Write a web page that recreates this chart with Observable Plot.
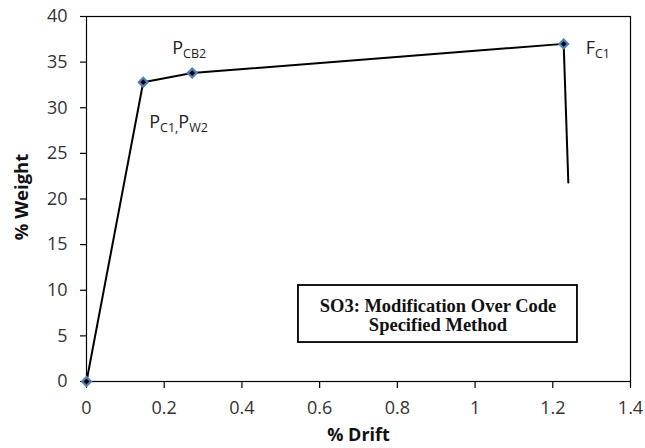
<!DOCTYPE html>
<html>
<head>
<meta charset="utf-8">
<script src="https://cdn.jsdelivr.net/npm/d3@7"></script>
<script src="https://cdn.jsdelivr.net/npm/@observablehq/plot@0.6"></script>
<style>
  html, body { margin: 0; padding: 0; background: #fff; }
  #chart { width: 645px; height: 448px; }
</style>
</head>
<body>
<div id="chart"></div>
<script>
// Data
const drift  = [0, 0.146, 0.272, 1.228, 1.240];   // % Drift
const weight = [0, 32.8, 33.8, 37.0, 21.8];        // % Weight
const hasMarker = [true, true, true, true, false];
const xTicks = [0, 0.2, 0.4, 0.6, 0.8, 1, 1.2, 1.4];
const yTicks = [0, 5, 10, 15, 20, 25, 30, 35, 40];
const xLabel = "% Drift";
const yLabel = "% Weight";
const boxText = "SO3: Modification Over Code\nSpecified Method";
const boxExtent = [{x1: 0.5455, x2: 1.2635, y1: 4.27, y2: 10.52}];

const points = drift.map((d, i) => ({drift: d, weight: weight[i], marker: hasMarker[i]}));

// point labels with subscripts (parts: [text, isSubscript])
const labelPCB2 = [{pt: 2, parts: [["P", false], ["CB2", true]]}];
const labelPC1  = [{pt: 1, parts: [["P", false], ["C1,", true], ["P", false], ["W2", true]]}];
const labelFC1  = [{pt: 3, parts: [["F", false], ["C1", true]]}];

const font = "'Open Sans', 'Noto Sans', sans-serif";

function labelMark(lab, dx, dy) {
  return Plot.text(lab, {
    x: d => points[d.pt].drift,
    y: d => points[d.pt].weight,
    text: d => d.parts.map(p => p[0]).join(""),
    textAnchor: "start",
    lineAnchor: "bottom",
    fontSize: 18,
    fill: "#222",
    dx, dy,
    render(index, scales, values, dims, ctx, next) {
      const g = next(index, scales, values, dims, ctx);
      d3.select(g).selectAll("text").each(function(_, k) {
        const parts = lab[index[k]].parts;
        const t = d3.select(this);
        t.text(null);
        let inSub = false;
        parts.forEach(([txt, sub]) => {
          const ts = t.append("tspan").text(txt);
          if (sub) {
            ts.attr("font-size", 12.5);
            if (!inSub) { ts.attr("dy", 4); inSub = true; }
          } else if (inSub) {
            ts.attr("dy", -4); inSub = false;
          }
        });
      });
      return g;
    }
  });
}

const chart = Plot.plot({
  width: 645,
  height: 448,
  marginLeft: 86,
  marginRight: 15,
  marginTop: 16,
  marginBottom: 67,
  style: {fontFamily: font, background: "#fff", color: "#222"},
  x: {domain: [0, 1.4]},
  y: {domain: [0, 40]},
  marks: [
    Plot.frame({stroke: "#000", strokeWidth: 1.2}),
    Plot.axisX({ticks: xTicks, tickFormat: d => String(d), tickSize: 7, tickPadding: 13,
      fontSize: 18, label: null, stroke: "#000", strokeWidth: 1.2, fill: "#333"}),
    Plot.axisY({ticks: yTicks, tickSize: 6, tickPadding: 13,
      fontSize: 18, label: null, stroke: "#000", strokeWidth: 1.2, fill: "#333"}),
    Plot.text([xLabel], {frameAnchor: "bottom", lineAnchor: "bottom", textAnchor: "middle",
      dy: 59, fontSize: 18, fontWeight: "bold", fill: "#111"}),
    Plot.text([yLabel], {frameAnchor: "left", textAnchor: "middle", lineAnchor: "middle",
      dx: -64.5, dy: -2, rotate: -90, fontSize: 18.5, fontWeight: "bold", fill: "#111"}),
    Plot.line(points, {x: "drift", y: "weight", stroke: "#000", strokeWidth: 2}),
    Plot.dot(points.filter(d => d.marker), {x: "drift", y: "weight", symbol: "diamond2",
      r: 4, fill: "#000", stroke: "#4F81BD", strokeWidth: 2.2}),
    labelMark(labelPCB2, -20, -19),
    labelMark(labelPC1, 6, 46),
    labelMark(labelFC1, 22, 10),
    Plot.rect(boxExtent, {x1: "x1", x2: "x2", y1: "y1", y2: "y2", fill: "#fff", stroke: "#000", strokeWidth: 1.8}),
    Plot.text(boxExtent, {x: d => (d.x1 + d.x2) / 2, y: d => (d.y1 + d.y2) / 2, text: () => boxText,
      dy: 1.5, fontSize: 18.5, fontWeight: "bold", fontFamily: "'Liberation Serif', 'DejaVu Serif', serif",
      lineHeight: 1.05, fill: "#111"})
  ]
});
document.getElementById("chart").appendChild(chart);
</script>
</body>
</html>
